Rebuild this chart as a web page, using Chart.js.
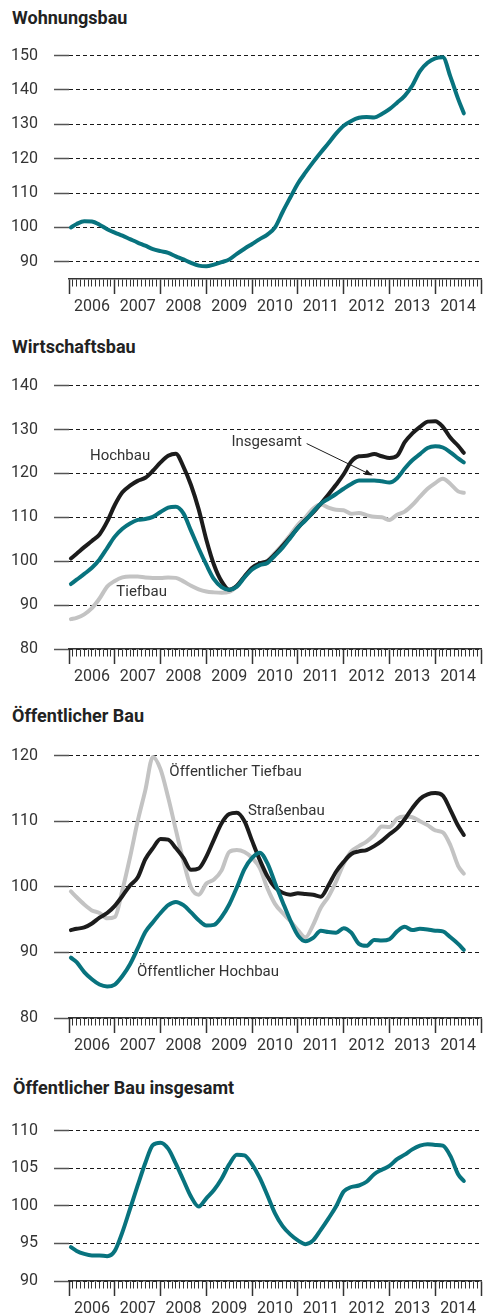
<!DOCTYPE html>
<html><head><meta charset="utf-8">
<script src="https://cdn.jsdelivr.net/npm/chart.js@4/dist/chart.umd.min.js"></script>
<style>
html,body{margin:0;padding:0;background:#fff;width:484px;height:1315px;overflow:hidden;}
body{position:relative;font-family:Roboto,sans-serif;}
.title{position:absolute;left:12px;font-weight:700;font-size:18px;line-height:18px;color:#222;white-space:nowrap;}
canvas{position:absolute;left:0;}
</style></head><body>
<div class="title" style="top:9px">Wohnungsbau</div>
<canvas id="c1" width="484" height="283" style="top:30px"></canvas>
<div class="title" style="top:338px">Wirtschaftsbau</div>
<canvas id="c2" width="484" height="323" style="top:360px"></canvas>
<div class="title" style="top:707px">Öffentlicher Bau</div>
<canvas id="c3" width="484" height="322" style="top:730px"></canvas>
<div class="title" style="top:1079px;left:13px">Öffentlicher Bau insgesamt</div>
<canvas id="c4" width="484" height="210" style="top:1105px"></canvas>
<script>
// x positions in months since January 2006
const months = [0.5, 2, 4, 6, 8, 10, 12, 14, 16, 18, 20, 22, 24, 26, 28, 30, 32, 34, 36, 38, 40,
  42, 44, 46, 48, 50, 52, 54, 56, 58, 60, 62, 64, 66, 68, 70, 72, 74, 76, 78, 80,
  82, 84, 86, 88, 90, 92, 94, 96, 98, 100, 102, 103.5];
const yearLabels = ['2006','2007','2008','2009','2010','2011','2012','2013','2014'];

const wohnungsbau = [100, 101, 101.8, 101.7, 100.8, 99.5, 98.5, 97.6, 96.6, 95.6,
  94.7, 93.7, 93.1, 92.6, 91.6, 90.7, 89.7, 88.9, 88.7, 89.2,
  89.9, 90.7, 92.3, 93.8, 95.2, 96.6, 97.9, 100, 104.5, 108.7,
  112.8, 116, 119, 121.8, 124.5, 127.3, 129.6, 131, 131.9, 132.1,
  132, 133, 134.4, 136.3, 138.3, 141.3, 145.5, 147.9, 149.2, 149.5,
  143.8, 137.4, 133.2];

const wirtInsgesamt = [94.8, 95.8, 97.1, 98.5, 100.4, 103, 105.6, 107.4, 108.6, 109.4,
  109.6, 110.1, 111.2, 112.2, 112.4, 110.9, 106.9, 102.9, 99.2, 95.9,
  94.1, 93.5, 94.2, 96.3, 98.1, 99.1, 99.6, 101.3, 103.1, 105.3,
  107.6, 109.3, 111.3, 113.1, 114.2, 115.3, 116.5, 117.6, 118.4, 118.4,
  118.4, 118.2, 117.9, 118.9, 121.1, 123, 124.4, 125.8, 126.2, 125.9,
  124.8, 123.4, 122.5];
const wirtHochbau = [100.6, 101.7, 103.2, 104.6, 106.1, 109, 112.8, 115.7, 117.2, 118.3,
  119, 120.6, 122.5, 124, 124.5, 121.5, 117.3, 111.8, 104.9, 99.2,
  95.4, 93.5, 94.4, 96.5, 98.5, 99.5, 100, 101.6, 103.5, 105.5,
  107.6, 109.4, 111.1, 113.1, 115.2, 117.4, 119.8, 122.7, 123.9, 124,
  124.4, 123.9, 123.5, 124, 127.1, 129.1, 130.6, 131.8, 131.9, 130.6,
  128.1, 126.3, 124.7];
const wirtTiefbau = [86.8, 87.1, 87.9, 89.3, 91.5, 94.2, 95.5, 96.3, 96.5, 96.5,
  96.3, 96.2, 96.2, 96.3, 96.2, 95.4, 94.4, 93.6, 93.1, 92.9,
  92.8, 93, 94.3, 96.4, 98.3, 99.4, 100.1, 101.9, 103.8, 106,
  108.3, 110, 112, 112.9, 112.2, 111.7, 111.6, 110.8, 111, 110.5,
  110.1, 110, 109.4, 110.6, 111.3, 112.8, 114.7, 116.5, 117.8, 118.8,
  117.6, 115.9, 115.6];

const strassenbau = [93.4, 93.6, 93.8, 94.4, 95.3, 96, 97.1, 98.6, 100.2, 101.4,
  104.2, 105.9, 107.3, 107.2, 105.9, 104.4, 102.6, 102.8, 104.6, 107.2,
  109.7, 111.1, 111.3, 110, 107, 104.1, 101.6, 99.9, 99.1, 98.8,
  99, 98.9, 98.8, 98.5, 100.2, 102.3, 103.8, 105, 105.4, 105.6,
  106.2, 107, 108, 108.9, 110.3, 112, 113.4, 114.1, 114.3, 113.9,
  111.7, 109.3, 107.9];
const oeffTiefbau = [99.3, 98.4, 97.3, 96.4, 96, 95.2, 95.4, 99.5, 104.5, 110,
  114.7, 119.8, 117.9, 113.6, 108.7, 103.9, 99.9, 98.8, 100.5, 101.1,
  102.5, 105.3, 105.6, 105.3, 104.4, 102.9, 99.8, 97.4, 96, 94.8,
  93.4, 92.3, 94.2, 96.8, 98.5, 100.8, 103.5, 105.4, 106.2, 106.9,
  107.9, 109.2, 109.1, 110.4, 110.7, 110.6, 110, 109.4, 108.6, 108.3,
  106.3, 103.2, 102];
const oeffHochbau = [89.2, 88.5, 87, 85.9, 85.1, 84.8, 85.1, 86.4, 88.2, 90.6,
  93.1, 94.6, 96, 97.2, 97.7, 97.2, 96.1, 94.9, 94.1, 94.2,
  95.4, 97.3, 99.9, 102.7, 104.4, 105.2, 103.6, 100.6, 97.7, 94.9,
  92.6, 91.7, 92.2, 93.3, 93.1, 93, 93.7, 93, 91.3, 91,
  91.9, 91.8, 92, 93.2, 93.9, 93.4, 93.6, 93.5, 93.3, 93.2,
  92.3, 91.3, 90.4];

const oeffInsgesamt = [94.5, 94, 93.6, 93.4, 93.4, 93.3, 94, 96.5, 99.6, 102.7,
  105.7, 108.1, 108.4, 107.6, 105.6, 103.4, 101.2, 99.9, 101, 102.1,
  103.6, 105.5, 106.8, 106.7, 105.5, 103.7, 101.4, 99, 97.3, 96.2,
  95.4, 94.9, 95.4, 96.8, 98.3, 99.9, 101.9, 102.5, 102.7, 103.2,
  104.2, 104.8, 105.3, 106.2, 106.8, 107.5, 108, 108.2, 108.1, 108,
  106.6, 104.2, 103.3];

const ticksWohnungsbau = [90, 100, 110, 120, 130, 140, 150];
const ticksWirtschaftsbau = [80, 90, 100, 110, 120, 130, 140];
const ticksOeffentlich = [80, 90, 100, 110, 120];
const ticksOeffInsgesamt = [90, 95, 100, 105, 110];

const TEAL = '#08737e', BLACK = '#1c1c1c', GRAY = '#c3c3c3', TEXT = '#333333';
Chart.defaults.font.family = "Roboto, sans-serif";
Chart.defaults.font.size = 16;
Chart.defaults.color = TEXT;

function pts(vals) { return vals.map((v, i) => ({ x: months[i], y: v })); }
function ds(vals, color) {
  return { data: pts(vals), borderColor: color, borderWidth: 4, clip: false, fill: false };
}

const annotate = {
  id: 'annotate',
  afterDatasetsDraw(chart, args, opts) {
    const ctx = chart.ctx, xs = chart.scales.x, ys = chart.scales.y;
    ctx.save();
    ctx.font = "15px Roboto, sans-serif";
    ctx.fillStyle = TEXT;
    ctx.textBaseline = 'middle';
    ctx.textAlign = 'left';
    (opts.labels || []).forEach(l => ctx.fillText(l.text, xs.getPixelForValue(l.x), ys.getPixelForValue(l.y)));
    (opts.arrows || []).forEach(a => {
      const x1 = xs.getPixelForValue(a.x1), y1 = ys.getPixelForValue(a.y1);
      const x2 = xs.getPixelForValue(a.x2), y2 = ys.getPixelForValue(a.y2);
      const ang = Math.atan2(y2 - y1, x2 - x1);
      ctx.strokeStyle = BLACK; ctx.fillStyle = BLACK; ctx.lineWidth = 1;
      ctx.beginPath(); ctx.moveTo(x1, y1); ctx.lineTo(x2 - 5 * Math.cos(ang), y2 - 5 * Math.sin(ang)); ctx.stroke();
      ctx.beginPath();
      ctx.moveTo(x2, y2);
      ctx.lineTo(x2 - 8 * Math.cos(ang) + 3 * Math.sin(ang), y2 - 8 * Math.sin(ang) - 3 * Math.cos(ang));
      ctx.lineTo(x2 - 8 * Math.cos(ang) - 3 * Math.sin(ang), y2 - 8 * Math.sin(ang) + 3 * Math.cos(ang));
      ctx.closePath(); ctx.fill();
    });
    ctx.restore();
  }
};

function xScale() {
  return {
    type: 'linear', min: 0, max: 108, position: 'bottom',
    afterBuildTicks: s => { const t = []; for (let m = 0; m <= 108; m++) t.push({ value: m }); s.ticks = t; },
    afterFit: s => { s.height = 34; },
    grid: {
      display: true, drawOnChartArea: false, drawTicks: true, tickLength: 15,
      tickColor: '#333',
      tickWidth: c => (c.tick && c.tick.value % 12 === 0) ? 1.5 : 1,
      tickBorderDash: c => (c.tick && c.tick.value % 12 === 0) ? [] : [7, 40]
    },
    border: { display: true, color: '#333', width: 1.5 },
    ticks: {
      autoSkip: false, maxRotation: 0, minRotation: 0, padding: 3, color: TEXT, font: { size: 16 },
      callback: v => (v % 12 === 6) ? yearLabels[(v - 6) / 12] : ''
    }
  };
}
function yScale(min, max, ticks) {
  return {
    type: 'linear', min: min, max: max, position: 'left',
    afterBuildTicks: s => { s.ticks = ticks.map(v => ({ value: v })); },
    afterFit: s => { s.width = 69; },
    grid: { color: '#1a1a1a', lineWidth: 1, drawTicks: true, tickLength: 15, tickColor: '#555', tickWidth: 1.5, tickBorderDash: [] },
    border: { display: false, dash: [4, 3] },
    ticks: { padding: 16, color: TEXT, font: { size: 16 } }
  };
}
function makeChart(id, datasets, yMin, yMax, yTicks, padTop, annot) {
  return new Chart(document.getElementById(id), {
    type: 'line',
    data: { datasets: datasets },
    options: {
      responsive: false, animation: false, devicePixelRatio: 1,
      layout: { padding: { top: padTop, left: 0, right: 0, bottom: 0 } },
      scales: { x: xScale(), y: yScale(yMin, yMax, yTicks) },
      elements: { point: { radius: 0 }, line: { borderWidth: 4, cubicInterpolationMode: 'monotone', borderCapStyle: 'round', borderJoinStyle: 'round' } },
      plugins: { legend: { display: false }, tooltip: { enabled: false }, annotate: annot || {} }
    },
    plugins: [annotate]
  });
}

makeChart('c1', [ds(wohnungsbau, TEAL)], 85, 150, ticksWohnungsbau, 22);

makeChart('c2', [ds(wirtInsgesamt, TEAL), ds(wirtHochbau, BLACK), ds(wirtTiefbau, GRAY)], 80, 140, ticksWirtschaftsbau, 24, {
  labels: [
    { text: 'Hochbau', x: 5.5, y: 123.8 },
    { text: 'Tiefbau', x: 12.4, y: 92.9 },
    { text: 'Insgesamt', x: 42.6, y: 127.1 }
  ],
  arrows: [{ x1: 62.3, y1: 126.8, x2: 79.6, y2: 119.5 }]
});

makeChart('c3', [ds(oeffHochbau, TEAL), ds(strassenbau, BLACK), ds(oeffTiefbau, GRAY)], 80, 120, ticksOeffentlich, 24, {
  labels: [
    { text: 'Öffentlicher Tiefbau', x: 26.3, y: 117.4 },
    { text: 'Straßenbau', x: 46.9, y: 111.5 },
    { text: 'Öffentlicher Hochbau', x: 17.8, y: 87.0 }
  ]
});

makeChart('c4', [ds(oeffInsgesamt, TEAL)], 90, 110, ticksOeffInsgesamt, 24);
</script>
</body></html>
